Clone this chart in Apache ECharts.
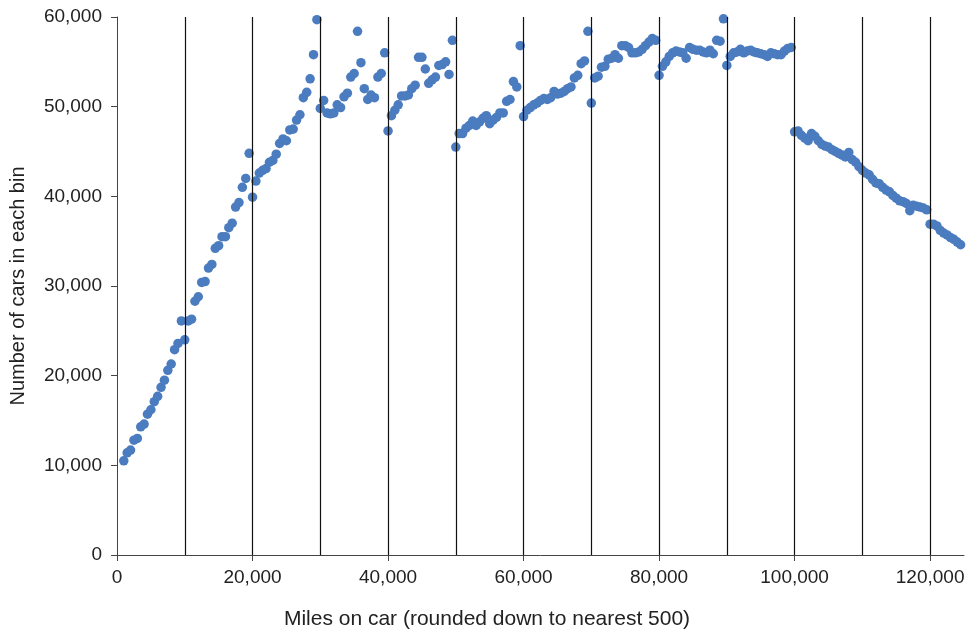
<!DOCTYPE html>
<html>
<head>
<meta charset="utf-8">
<script src="https://cdn.jsdelivr.net/npm/echarts@6/dist/echarts.min.js"></script>
<style>html,body{margin:0;padding:0;background:#fff}#c{width:970px;height:635px}</style>
</head>
<body>
<div id="c"></div>
<script>
// bin width (miles) and the first mile value of each block of counts
const binWidth = 500;
const blockStarts = [1000, 10000, 20000, 30000, 40000, 50000, 60000, 70000, 80000, 90000, 100000, 110000, 120000];
// number of cars in each bin, one array per 10,000-mile block
const block0   = [10500,11400,11700,12800,13000,14300,14600,15700,16200,17100,17700,18700,19500,20600,21300,22900,23600,26100];
const block10  = [24000,26100,26300,28300,28800,30400,30500,32000,32400,34200,34500,35500,35500,36500,37000,38800,39300,41000,42000,44800];
const block20  = [39900,41700,42600,42900,43100,43800,44000,44700,45900,46400,46200,47400,47500,48500,49100,51000,51600,53100,55800,59700];
const block30  = [49800,50700,49300,49200,49300,50200,49900,51100,51500,53300,53700,58400,54900,52000,50800,51300,51000,53300,53700,56000];
const block40  = [47300,49000,49600,50200,51200,51200,51300,52000,52400,55500,55500,54200,52600,53000,53300,54600,54700,55000,53600,57400];
const block50  = [45500,47000,47000,47600,47900,48400,47900,48300,48700,49000,48100,48500,48800,49300,49300,50600,50800,52800,52200,56800];
const block60  = [48900,49600,49900,50200,50400,50700,50900,50800,51000,51700,51400,51500,51700,52000,52200,53200,53500,54800,55100,58400];
const block70  = [50400,53200,53400,54400,54500,55300,55400,55800,55400,56800,56800,56600,56000,56000,56100,56400,56800,57200,57600,57400];
const block80  = [53500,54500,55000,55600,56000,56200,56100,56000,55400,56600,56400,56300,56300,56100,56000,56300,55900,57400,57300,59800];
const block90  = [54600,55600,56000,56100,56400,56000,56200,56300,56100,56000,55900,55800,55600,56000,55900,55800,55800,56200,56500,56600];
const block100 = [47200,47300,46800,46500,46200,47000,46700,46200,45800,45600,45500,45200,45000,44800,44600,44400,44900,44100,43800,43300];
const block110 = [42900,42600,42400,41900,41500,41400,41000,40700,40500,40100,39800,39500,39400,39200,38400,39000,38900,38800,38700,38500];
const block120 = [36900,36900,36700,36200,35900,35700,35400,35200,34900,34600];
const blocks = [block0, block10, block20, block30, block40, block50, block60, block70, block80, block90, block100, block110, block120];
// vertical reference lines and axis ticks
const vLines = [10000,20000,30000,40000,50000,60000,70000,80000,90000,100000,110000,120000];
const xTicks = [0,20000,40000,60000,80000,100000,120000];

const points = [];
blocks.forEach((b, k) => b.forEach((v, i) => points.push([blockStarts[k] + i * binWidth, v])));

const fmt = v => String(v).replace(/\B(?=(\d{3})+(?!\d))/g, ',');
const FONT = '"Liberation Sans", Arial, Helvetica, sans-serif';

const chart = echarts.init(document.getElementById('c'), null, {renderer: 'canvas'});
chart.setOption({
  animation: false,
  backgroundColor: '#fff',
  grid: {left: 116, right: 6, top: 17, bottom: 80, containLabel: false},
  xAxis: {
    type: 'value', min: 0, max: 125000,
    name: 'Miles on car (rounded down to nearest 500)',
    nameLocation: 'middle', nameGap: 54,
    nameTextStyle: {fontFamily: FONT, fontSize: 21, color: '#222', padding: [0, 107, 0, 0]},
    axisLine: {show: true, lineStyle: {color: '#444', width: 1}},
    axisTick: {show: true, length: 6, customValues: xTicks, lineStyle: {color: '#444'}},
    axisLabel: {customValues: xTicks, formatter: fmt, fontFamily: FONT, fontSize: 19, color: '#222', margin: 13},
    splitLine: {show: false}
  },
  yAxis: {
    type: 'value', min: 0, max: 60000, interval: 10000,
    name: 'Number of cars in each bin',
    nameLocation: 'middle', nameGap: 89,
    nameTextStyle: {fontFamily: FONT, fontSize: 20, color: '#222'},
    axisLine: {show: true, lineStyle: {color: '#444', width: 1}},
    axisTick: {show: true, length: 6, lineStyle: {color: '#444'}},
    axisLabel: {formatter: fmt, fontFamily: FONT, fontSize: 19, color: '#222', margin: 15},
    splitLine: {show: false}
  },
  series: [{
    type: 'scatter',
    data: points,
    symbol: 'circle',
    symbolSize: 9.5,
    itemStyle: {color: '#4a7cbf', opacity: 1},
    markLine: {
      silent: true,
      symbol: ['none', 'none'],
      label: {show: false},
      lineStyle: {color: '#111', width: 1.2, type: 'solid'},
      data: vLines.map(v => ({xAxis: v}))
    },
    z: 3
  }]
});
</script>
</body>
</html>
